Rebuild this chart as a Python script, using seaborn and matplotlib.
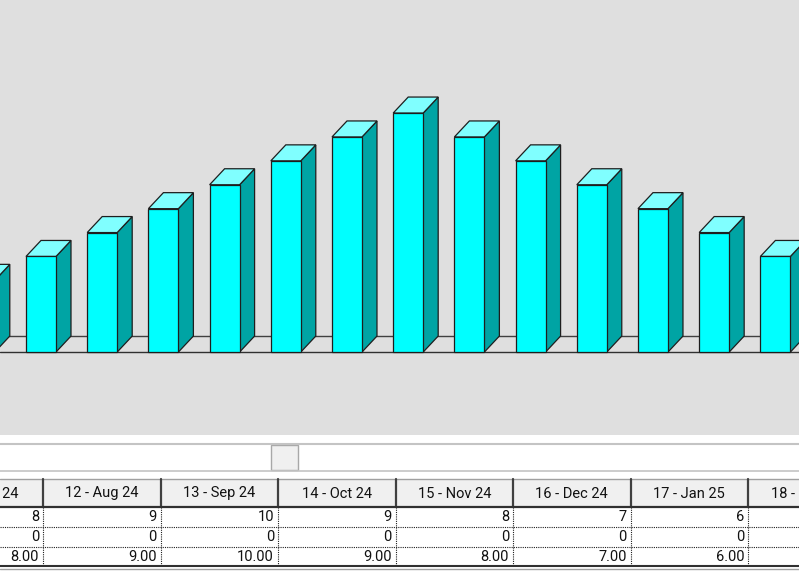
import matplotlib
matplotlib.use("Agg")
import matplotlib.pyplot as plt
import matplotlib.patches as mpatches
from matplotlib.transforms import blended_transform_factory
import seaborn as sns
import pandas as pd

# periods shown in the chart / table
periods = [6, 7, 8, 9, 10, 11, 12, 13, 14, 15, 16, 17, 18, 19]
months = ["Feb 24", "Mar 24", "Apr 24", "May 24", "Jun 24", "Jul 24", "Aug 24",
          "Sep 24", "Oct 24", "Nov 24", "Dec 24", "Jan 25", "Feb 25", "Mar 25"]
demand = [3, 4, 5, 6, 7, 8, 9, 10, 9, 8, 7, 6, 5, 4]
adjust = [0, 0, 0, 0, 0, 0, 0, 0, 0, 0, 0, 0, 0, 0]
total = [3.0, 4.0, 5.0, 6.0, 7.0, 8.0, 9.0, 10.0, 9.0, 8.0, 7.0, 6.0, 5.0, 4.0]

labels = [f"{p} - {m}" for p, m in zip(periods, months)]
df = pd.DataFrame({"period": labels, "demand": demand})

sns.set_style("white")
plt.rcParams["font.family"] = ["Roboto", "DejaVu Sans"]

W, H = 799, 584
fig = plt.figure(figsize=(W / 100, H / 100), dpi=100)
fig.patch.set_facecolor("white")

# ---- 3d-looking bar chart ----
chart_h = 435
ax = fig.add_axes([0, (H - chart_h) / H, 1, chart_h / H])
ax.set_facecolor("#dfdfdf")
edge = "#1e1e1e"
sns.barplot(data=df, x="period", y="demand", color="#00ffff", saturation=1,
            width=0.49, edgecolor=edge, linewidth=0.9, ax=ax, zorder=4)
ax.set_xlim(0.330, 13.386)
ax.set_ylim(-3.47, 14.73)

x0, x1 = ax.get_xlim()
y0, y1 = ax.get_ylim()
dx = 15 * (x1 - x0) / W
dy = 16 * (y1 - y0) / chart_h

# floor
ax.axhline(0, color="#303030", lw=1.0, zorder=2)
ax.axhline(dy, color="#404040", lw=1.0, zorder=2)

for bar in list(ax.patches):
    x = bar.get_x()
    w = bar.get_width()
    h = bar.get_height()
    side = mpatches.Polygon([(x + w, 0), (x + w + dx, dy), (x + w + dx, h + dy), (x + w, h)],
                            closed=True, facecolor="#00a4a4", edgecolor=edge, lw=0.9, zorder=3)
    top = mpatches.Polygon([(x, h), (x + dx, h + dy), (x + w + dx, h + dy), (x + w, h)],
                           closed=True, facecolor="#80ffff", edgecolor=edge, lw=0.9, zorder=3)
    ax.add_patch(side)
    ax.add_patch(top)

ax.set_xticks([])
ax.set_yticks([])
ax.set(xlabel="", ylabel="")
for s in ax.spines.values():
    s.set_visible(False)

# ---- scroll bar + data grid ----
tb = fig.add_axes([0, 0, 1, (H - chart_h) / H])
tb.set_facecolor("white")
tb.set_xlim(11.634, 18.434)
tb.set_ylim(H, chart_h)
tb.set_xticks([])
tb.set_yticks([])
for s in tb.spines.values():
    s.set_visible(False)

bt = blended_transform_factory(tb.transAxes, tb.transData)
tb.plot([0, 1], [443.5, 443.5], color="#c4c4c4", lw=1.5, transform=bt)
tb.plot([0, 1], [470.5, 470.5], color="#c4c4c4", lw=1.2, transform=bt)
tb.add_patch(mpatches.Rectangle((271 / W, 445), 27 / W, 25, transform=bt,
                                facecolor="#f0f0f0", edgecolor="#a8a8a8", lw=1.0))

hdr_top, hdr_bot = 479, 507
row_lines = [527, 547]
tbl_bot = 566
row_mid = [517, 537, 557]
pad = 4 / 117.5
fs = 10.5

tb.plot([0, 1], [hdr_top, hdr_top], color="#a0a0a0", lw=1.0, transform=bt)
for p, lab, a, b, c in zip(periods, labels, demand, adjust, total):
    tb.add_patch(mpatches.Rectangle((p, hdr_top + 0.5), 1, hdr_bot - hdr_top - 0.5,
                                    facecolor="#f0f0f0", edgecolor="none"))
    tb.text(p + 0.5, (hdr_top + hdr_bot) / 2 + 0.5, lab, ha="center", va="center",
            fontsize=fs, color="#111111")
    tb.plot([p, p], [hdr_top, hdr_bot], color="#404040", lw=1.6)
    tb.plot([p, p], [hdr_bot, tbl_bot], color="#202020", lw=0.8, ls=(0, (1, 1)))
    for y, v in zip(row_mid, [str(a), str(b), f"{c:.2f}"]):
        tb.text(p + 1 - pad, y, v, ha="right", va="center", fontsize=fs, color="#111111")

tb.plot([0, 1], [hdr_bot, hdr_bot], color="#303030", lw=1.6, transform=bt)
for y in row_lines:
    tb.plot([0, 1], [y, y], color="#202020", lw=0.8, ls=(0, (1, 1)), transform=bt)
tb.plot([0, 1], [tbl_bot, tbl_bot], color="#303030", lw=1.5, transform=bt)
tb.plot([0, 1], [tbl_bot + 2.5, tbl_bot + 2.5], color="#a0a0a0", lw=1.0, transform=bt)

fig.savefig("out.png", dpi=100)
